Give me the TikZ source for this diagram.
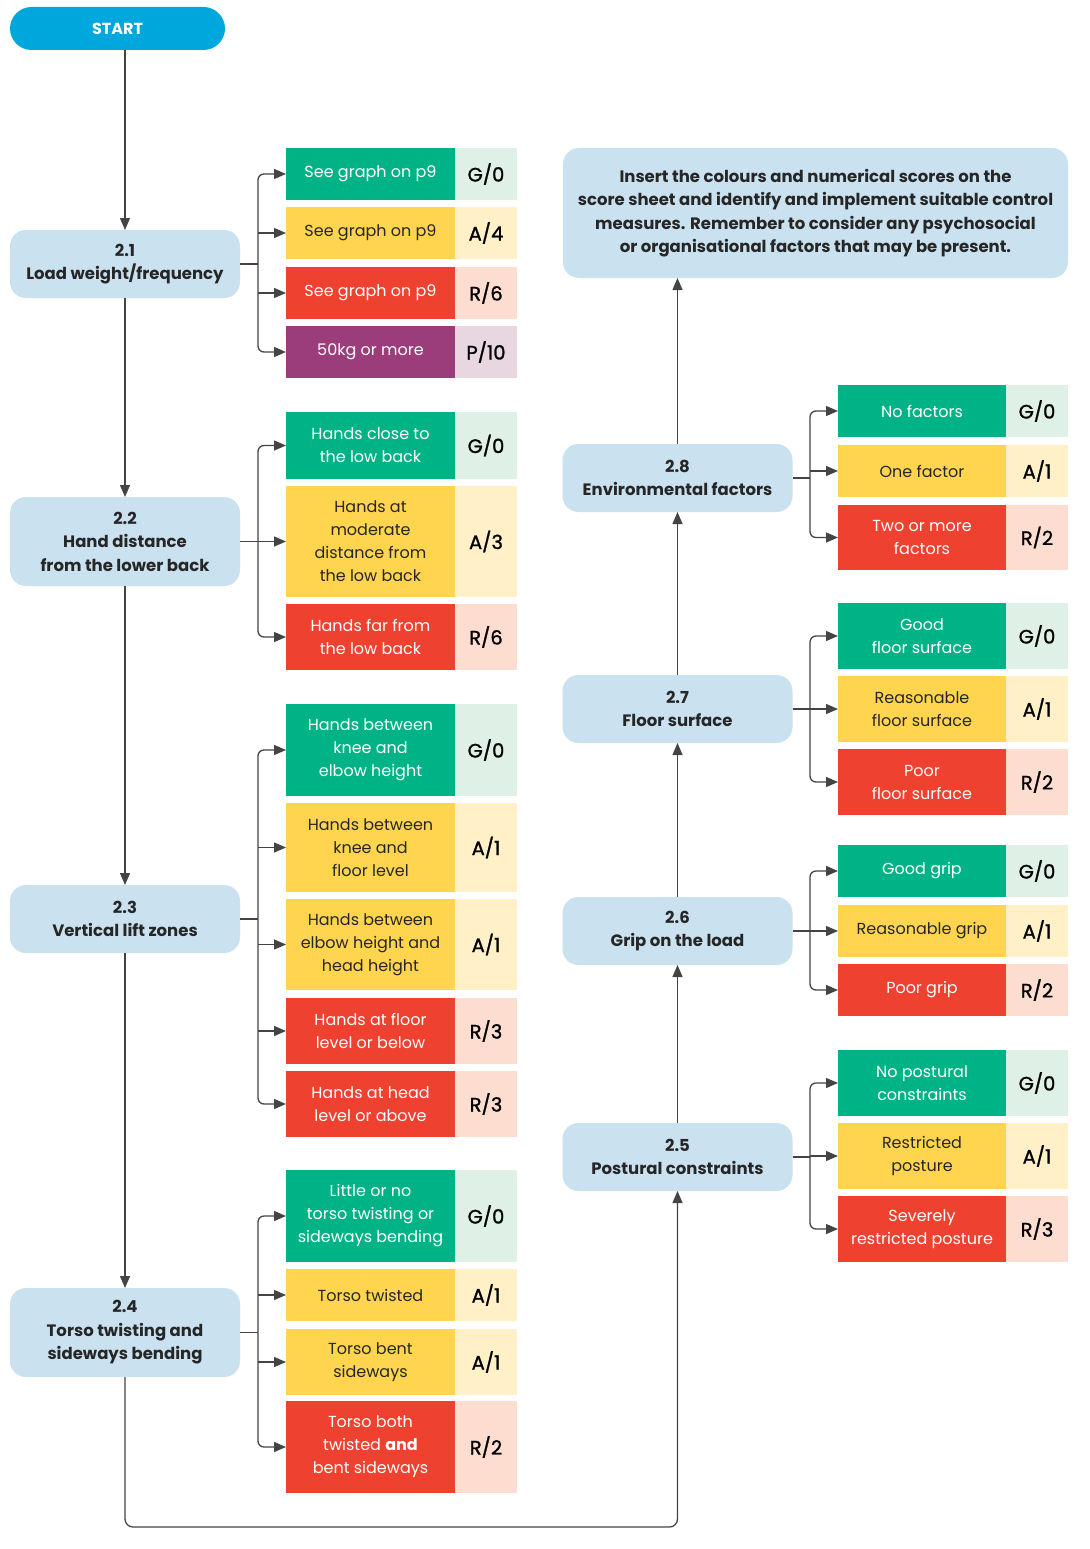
\documentclass[tikz,border=0pt]{standalone}
\usepackage{fontspec}
\setmainfont{Poppins}
\newfontfamily\scorefont[FakeBold=1.2]{Poppins}
\usetikzlibrary{positioning,arrows.meta}
\definecolor{gfill}{HTML}{00B386}
\definecolor{afill}{HTML}{FFD54F}
\definecolor{rfill}{HTML}{EF4130}
\definecolor{pfill}{HTML}{9B3D7A}
\definecolor{gscore}{HTML}{DFF0E6}
\definecolor{ascore}{HTML}{FFF0C8}
\definecolor{rscore}{HTML}{FCDDD0}
\definecolor{pscore}{HTML}{E8D6E0}
\definecolor{stepblue}{HTML}{CAE1F0}
\definecolor{startblue}{HTML}{00A7DD}
\definecolor{linegray}{HTML}{444444}
\definecolor{textdark}{HTML}{262626}
\begin{document}
\begin{tikzpicture}[x=1pt, y=-1pt,
  every node/.style={outer sep=0pt, inner sep=2pt, align=center},
  line/.style={draw=linegray, line width=1.3pt},
  arr/.style={line, -{Triangle[length=12pt, width=10pt]}},
  stepbox/.style={fill=stepblue, rounded corners=16pt, minimum width=230pt,
    text=textdark, font=\fontsize{16.5}{23.5}\selectfont\bfseries},
  opt/.style={anchor=west, minimum width=169pt, font=\fontsize{16}{23}\selectfont},
  sc/.style={minimum width=62pt, text=black, font=\fontsize{19.5}{23}\selectfont\scorefont},
  gopt/.style={opt, fill=gfill, text=white},
  aopt/.style={opt, fill=afill, text=textdark},
  ropt/.style={opt, fill=rfill, text=white},
  popt/.style={opt, fill=pfill, text=white},
  gsc/.style={sc, fill=gscore},
  asc/.style={sc, fill=ascore},
  rsc/.style={sc, fill=rscore},
  psc/.style={sc, fill=pscore}]
\useasboundingbox (0,0) rectangle (1089,1549);

% start and left column
\node[fill=startblue, rounded corners=21.5pt, minimum width=215pt, minimum height=43pt,
  text=white, font=\fontsize{16}{20}\selectfont\bfseries] (start) at (117.5,28.5) {START};
\node[stepbox, minimum height=68pt] (b21) at (125,264) {2.1\\Load weight/frequency};
\node[stepbox, minimum height=89pt] (b22) at (125,541.5) {2.2\\Hand distance\\from the lower back};
\node[stepbox, minimum height=68pt] (b23) at (125,919) {2.3\\Vertical lift zones};
\node[stepbox, minimum height=89pt] (b24) at (125,1332.5) {2.4\\Torso twisting and\\sideways bending};

% right column
\node[stepbox, minimum height=68pt] (b25) at (677.5,1157) {2.5\\Postural constraints};
\node[stepbox, minimum height=68pt] (b26) at (677.5,931) {2.6\\Grip on the load};
\node[stepbox, minimum height=68pt] (b27) at (677.5,709) {2.7\\Floor surface};
\node[stepbox, minimum height=68pt] (b28) at (677.5,478) {2.8\\Environmental factors};
\node[stepbox, minimum width=505pt, minimum height=130pt] (fin) at (815.5,213)
  {Insert the colours and numerical scores on the\\score sheet and identify and implement suitable control\\measures. Remember to consider any psychosocial\\or organisational factors that may be present.};

% 2.1 options
\node[gopt, minimum height=52pt] (o21g) at (286,174) {See graph on p9};
\node[gsc, minimum height=52pt, right=0pt of o21g] (s21g) {G/0};
\node[aopt, minimum height=52pt] (o21a) at (286,233) {See graph on p9};
\node[asc, minimum height=52pt, right=0pt of o21a] (s21a) {A/4};
\node[ropt, minimum height=52pt] (o21r) at (286,293) {See graph on p9};
\node[rsc, minimum height=52pt, right=0pt of o21r] (s21r) {R/6};
\node[popt, minimum height=52pt] (o21p) at (286,352) {50kg or more};
\node[psc, minimum height=52pt, right=0pt of o21p] (s21p) {P/10};

% 2.2 options
\node[gopt, minimum height=67pt] (o22g) at (286,445.5) {Hands close to\\the low back};
\node[gsc, minimum height=67pt, right=0pt of o22g] (s22g) {G/0};
\node[aopt, minimum height=111pt] (o22a) at (286,541.5) {Hands at\\moderate\\distance from\\the low back};
\node[asc, minimum height=111pt, right=0pt of o22a] (s22a) {A/3};
\node[ropt, minimum height=66pt] (o22r) at (286,637) {Hands far from\\the low back};
\node[rsc, minimum height=66pt, right=0pt of o22r] (s22r) {R/6};

% 2.3 options
\node[gopt, minimum height=92pt] (o23g) at (286,750) {Hands between\\knee and\\elbow height};
\node[gsc, minimum height=92pt, right=0pt of o23g] (s23g) {G/0};
\node[aopt, minimum height=89pt] (o23a) at (286,847.5) {Hands between\\knee and\\floor level};
\node[asc, minimum height=89pt, right=0pt of o23a] (s23a) {A/1};
\node[aopt, minimum height=91pt] (o23b) at (286,944.5) {Hands between\\elbow height and\\head height};
\node[asc, minimum height=91pt, right=0pt of o23b] (s23b) {A/1};
\node[ropt, minimum height=66pt] (o23r) at (286,1031) {Hands at floor\\level or below};
\node[rsc, minimum height=66pt, right=0pt of o23r] (s23r) {R/3};
\node[ropt, minimum height=66pt] (o23s) at (286,1104) {Hands at head\\level or above};
\node[rsc, minimum height=66pt, right=0pt of o23s] (s23s) {R/3};

% 2.4 options
\node[gopt, minimum height=92pt] (o24g) at (286,1216) {Little or no\\torso twisting or\\sideways bending};
\node[gsc, minimum height=92pt, right=0pt of o24g] (s24g) {G/0};
\node[aopt, minimum height=52pt] (o24a) at (286,1295) {Torso twisted};
\node[asc, minimum height=52pt, right=0pt of o24a] (s24a) {A/1};
\node[aopt, minimum height=66pt] (o24b) at (286,1362) {Torso bent\\sideways};
\node[asc, minimum height=66pt, right=0pt of o24b] (s24b) {A/1};
\node[ropt, minimum height=92pt] (o24r) at (286,1447) {Torso both\\twisted \textbf{and}\\bent sideways};
\node[rsc, minimum height=92pt, right=0pt of o24r] (s24r) {R/2};

% 2.5 to 2.8 options
\node[gopt, minimum width=168pt, minimum height=66pt] (o25g) at (838,1083) {No postural\\constraints};
\node[gsc, minimum height=66pt, right=0pt of o25g] (s25g) {G/0};
\node[aopt, minimum width=168pt, minimum height=66pt] (o25a) at (838,1156) {Restricted\\posture};
\node[asc, minimum height=66pt, right=0pt of o25a] (s25a) {A/1};
\node[ropt, minimum width=168pt, minimum height=66pt] (o25r) at (838,1229) {Severely\\restricted posture};
\node[rsc, minimum height=66pt, right=0pt of o25r] (s25r) {R/3};

\node[gopt, minimum width=168pt, minimum height=52pt] (o26g) at (838,871) {Good grip};
\node[gsc, minimum height=52pt, right=0pt of o26g] (s26g) {G/0};
\node[aopt, minimum width=168pt, minimum height=52pt] (o26a) at (838,931) {Reasonable grip};
\node[asc, minimum height=52pt, right=0pt of o26a] (s26a) {A/1};
\node[ropt, minimum width=168pt, minimum height=52pt] (o26r) at (838,990) {Poor grip};
\node[rsc, minimum height=52pt, right=0pt of o26r] (s26r) {R/2};

\node[gopt, minimum width=168pt, minimum height=66pt] (o27g) at (838,636) {Good\\floor surface};
\node[gsc, minimum height=66pt, right=0pt of o27g] (s27g) {G/0};
\node[aopt, minimum width=168pt, minimum height=66pt] (o27a) at (838,709) {Reasonable\\floor surface};
\node[asc, minimum height=66pt, right=0pt of o27a] (s27a) {A/1};
\node[ropt, minimum width=168pt, minimum height=66pt] (o27r) at (838,782) {Poor\\floor surface};
\node[rsc, minimum height=66pt, right=0pt of o27r] (s27r) {R/2};

\node[gopt, minimum width=168pt, minimum height=52pt] (o28g) at (838,411) {No factors};
\node[gsc, minimum height=52pt, right=0pt of o28g] (s28g) {G/0};
\node[aopt, minimum width=168pt, minimum height=52pt] (o28a) at (838,471) {One factor};
\node[asc, minimum height=52pt, right=0pt of o28a] (s28a) {A/1};
\node[ropt, minimum width=168pt, minimum height=65pt] (o28r) at (838,537.5) {Two or more\\factors};
\node[rsc, minimum height=65pt, right=0pt of o28r] (s28r) {R/2};

% main flow
\draw[arr] (start.south -| b21.north) -- (b21);
\draw[arr] (b21) -- (b22);
\draw[arr] (b22) -- (b23);
\draw[arr] (b23) -- (b24);
\draw[arr, rounded corners=8pt] (b24.south) -- (125,1527) -| (b25.south);
\draw[arr] (b25) -- (b26);
\draw[arr] (b26) -- (b27);
\draw[arr] (b27) -- (b28);
\draw[arr] (b28.north) -- (b28.north |- fin.south);

% branches
\coordinate (k21) at (258,264);
\coordinate (k22) at (258,541.5);
\coordinate (k23) at (258,919);
\coordinate (k24) at (258,1332.5);
\coordinate (k25) at (810,1157);
\coordinate (k26) at (810,931);
\coordinate (k27) at (810,709);
\coordinate (k28) at (810,478);
\foreach \b/\first/\last in {21/o21g/o21p, 22/o22g/o22r, 23/o23g/o23s, 24/o24g/o24r,
    25/o25g/o25r, 26/o26g/o26r, 27/o27g/o27r, 28/o28g/o28r} {
  \draw[line] (b\b.east) -- (k\b);
  \draw[arr, rounded corners=6pt] (k\b) |- (\first.west);
  \draw[arr, rounded corners=6pt] (k\b) |- (\last.west);
}
\foreach \o/\k in {o21a/k21, o21r/k21, o22a/k22, o23a/k23, o23b/k23, o23r/k23,
    o24a/k24, o24b/k24, o25a/k25, o26a/k26, o27a/k27, o28a/k28}
  \draw[arr] (\k |- \o.west) -- (\o.west);
\end{tikzpicture}
\end{document}
